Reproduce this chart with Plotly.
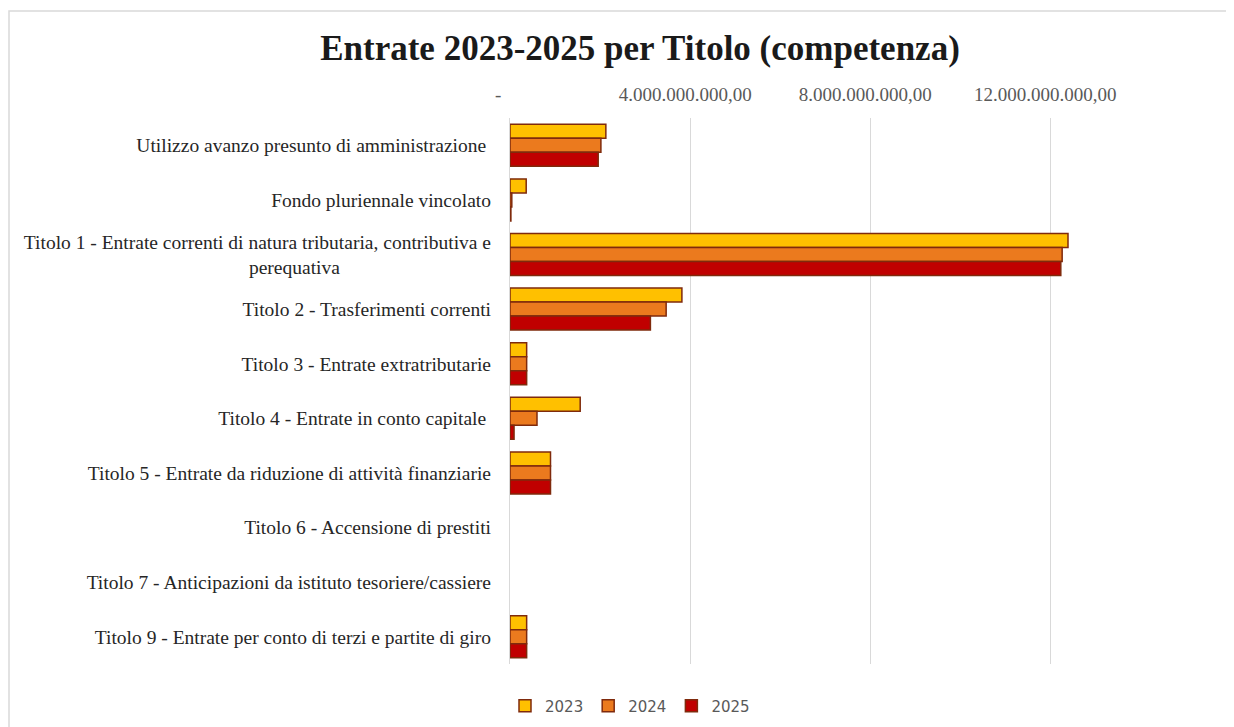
import plotly.graph_objects as go

NB = "\u00a0"
categories = [
    "Utilizzo avanzo presunto di amministrazione ",
    "Fondo pluriennale vincolato",
    "Titolo 1 - Entrate correnti di natura tributaria, contributiva e<br>perequativa" + NB * 31,
    "Titolo 2 - Trasferimenti correnti",
    "Titolo 3 - Entrate extratributarie",
    "Titolo 4 - Entrate in conto capitale ",
    "Titolo 5 - Entrate da riduzione di attività finanziarie",
    "Titolo 6 - Accensione di prestiti",
    "Titolo 7 - Anticipazioni da istituto tesoriere/cassiere",
    "Titolo 9 - Entrate per conto di terzi e partite di giro",
]
v2023 = [2.13e9, 0.36e9, 12.40e9, 3.82e9, 0.37e9, 1.56e9, 0.90e9, 0, 0, 0.37e9]
v2024 = [2.02e9, 0.04e9, 12.27e9, 3.47e9, 0.37e9, 0.60e9, 0.90e9, 0, 0, 0.37e9]
v2025 = [1.96e9, 0.02e9, 12.24e9, 3.12e9, 0.37e9, 0.09e9, 0.90e9, 0, 0, 0.37e9]
series_names = ["2023", "2024", "2025"]
colors = ["#FFC000", "#EB7A1E", "#C00000"]
tick_vals = [0, 4e9, 8e9, 12e9]
tick_text = ["-" + NB * 5, "4.000.000.000,00" + NB * 2,
             "8.000.000.000,00" + NB * 2, "12.000.000.000,00" + NB * 2]

# page has an 8px body margin; figure coordinates are page coordinates minus 8
OFF = 8
W, H = 1234 - OFF, 727 - OFF
L = 510 - OFF
T = 118 - OFF
plot_right = 1140 - OFF
plot_bottom = 664 - OFF
R = W - plot_right
B = H - plot_bottom
pw = W - L - R
ph = H - T - B

fig = go.Figure()
for name, vals, col in zip(series_names, [v2023, v2024, v2025], colors):
    fig.add_trace(go.Bar(
        y=categories, x=vals, name=name, orientation="h",
        marker=dict(color=col,
                    line=dict(color="#7F2A0C",
                              width=[1.5 if v > 0 else 0 for v in vals])),
    ))

fig.add_shape(type="rect", xref="paper", yref="paper",
              x0=(1 - L) / pw, x1=(W + 20 - L) / pw,
              y0=-(B + 20) / ph, y1=1 + (T - 3) / ph,
              line=dict(color="#D9D9D9", width=1.5), layer="below")

fig.update_layout(
    width=W, height=H,
    margin=dict(l=L, r=R, t=T, b=B, autoexpand=False),
    paper_bgcolor="white", plot_bgcolor="white",
    barmode="group", bargap=0.23, bargroupgap=0,
    title=dict(text="<b>Entrate 2023-2025 per Titolo (competenza)</b>",
               x=(640 - OFF) / W, xanchor="center",
               y=1 - (48 - OFF) / H, yanchor="middle",
               xref="container", yref="container",
               font=dict(family="Liberation Serif", size=35, color="#1a1a1a")),
    xaxis=dict(side="top", range=[0, 14e9], tickvals=tick_vals, ticktext=tick_text,
               showgrid=True, gridcolor="#D9D9D9", gridwidth=1.2,
               zeroline=False, showline=False,
               ticks="", ticklabelstandoff=12,
               tickfont=dict(family="Liberation Serif", size=19, color="#595959")),
    yaxis=dict(autorange="reversed", showgrid=False, zeroline=False,
               showline=True, linecolor="#D9D9D9", linewidth=1.2,
               ticks="", ticklabelstandoff=14,
               tickfont=dict(family="Liberation Serif", size=19.5, color="#262626")),
    legend=dict(orientation="h", x=(630 - OFF - L) / pw, xanchor="center",
                y=-(706 - 664) / ph, yanchor="middle",
                font=dict(family="DejaVu Sans", size=15, color="#595959"),
                itemwidth=30, traceorder="normal"),
    showlegend=True,
)

fig.write_html("out.html")
